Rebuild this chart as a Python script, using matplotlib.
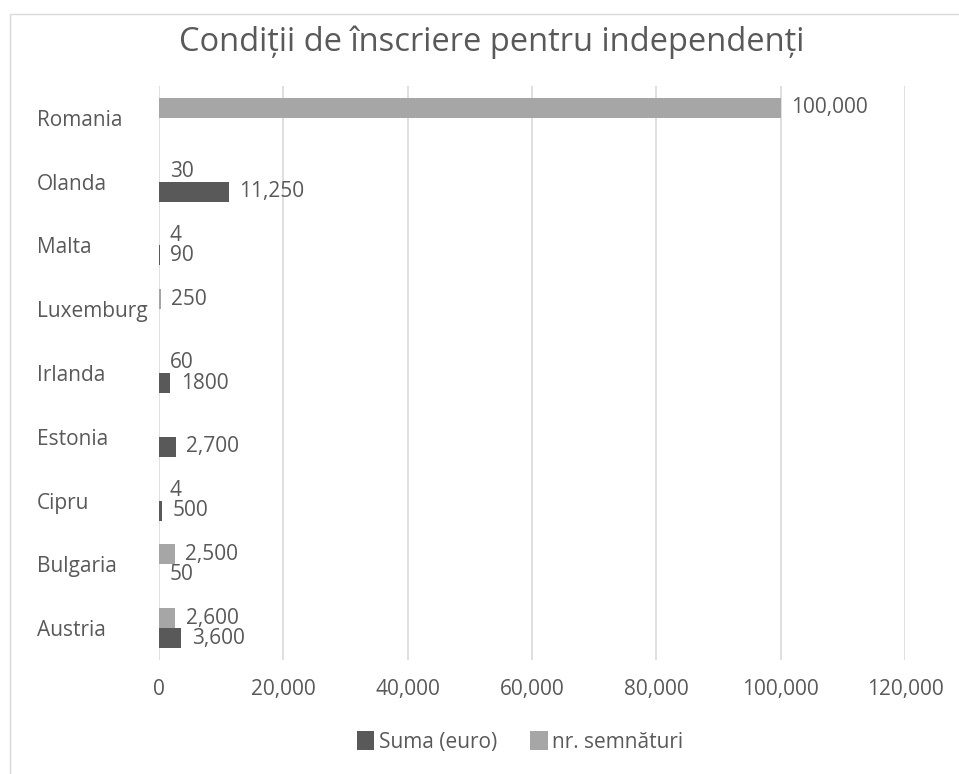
import numpy as np
import matplotlib
matplotlib.use('Agg')
import matplotlib.pyplot as plt
from matplotlib.patches import Rectangle

# ============================
# DATE
# ============================

tari = ['Austria', 'Bulgaria', 'Cipru', 'Estonia', 'Irlanda',
        'Luxemburg', 'Malta', 'Olanda', 'Romania']
suma_euro = [3600, 50, 500, 2700, 1800, None, 90, 11250, None]
nr_semnaturi = [2600, 2500, 4, None, 60, 250, 4, 30, 100000]
etichete_suma = ['3,600', '50', '500', '2,700', '1800', '', '90', '11,250', '']
etichete_semn = ['2,600', '2,500', '4', '', '60', '250', '4', '30', '100,000']
x_ticks = [0, 20000, 40000, 60000, 80000, 100000, 120000]

COL_SUMA = '#595959'
COL_SEMN = '#a6a6a6'
COL_TEXT = '#595959'
FS = 15

plt.rcParams['font.family'] = ['Open Sans', 'DejaVu Sans']

fig = plt.figure(figsize=(9.59, 7.74), dpi=100)
ax = fig.add_axes([159 / 959, 1 - 660 / 774, (905 - 159) / 959, (660 - 86) / 774])

# chenarul graficului
fig.patches.append(Rectangle((10 / 959, -0.1), 1.2, 1 - 14 / 774 + 0.1,
                             transform=fig.transFigure, fill=False,
                             edgecolor='#d9d9d9', linewidth=1))

y = np.arange(len(tari))
h = 0.314

suma_vals = [v if v is not None else 0 for v in suma_euro]
semn_vals = [v if v is not None else 0 for v in nr_semnaturi]

ax.barh(y - h / 2, suma_vals, height=h, color=COL_SUMA, label='Suma (euro)', zorder=3)
ax.barh(y + h / 2, semn_vals, height=h, color=COL_SEMN, label='nr. semnături', zorder=3)

for i in range(len(tari)):
    if etichete_suma[i]:
        ax.text(suma_vals[i] + 1700, y[i] - h / 2, etichete_suma[i], va='center',
                ha='left', fontsize=FS, color=COL_TEXT)
    if etichete_semn[i]:
        ax.text(semn_vals[i] + 1700, y[i] + h / 2, etichete_semn[i], va='center',
                ha='left', fontsize=FS, color=COL_TEXT)

ax.set_xlim(0, 120000)
ax.set_ylim(-0.5, len(tari) - 0.5)
ax.set_xticks(x_ticks)
ax.set_xticklabels([f'{t:,}' for t in x_ticks])
ax.set_yticks(y)
ax.set_yticklabels(tari, ha='left')
ax.tick_params(axis='y', length=0, pad=(159 - 37) * 0.72, labelsize=FS, labelcolor=COL_TEXT)
ax.tick_params(axis='x', length=0, pad=14, labelsize=FS, labelcolor=COL_TEXT)
ax.grid(axis='x', color='#d9d9d9', linewidth=1.2, zorder=0)
for s in ax.spines.values():
    s.set_visible(False)

fig.text(492 / 959, 1 - 42 / 774, 'Condiții de înscriere pentru independenți',
         ha='center', va='center', fontsize=23.5, color=COL_TEXT)

# legenda sub axa, centrata pe x ~ 520 px
fig.legend(*ax.get_legend_handles_labels(), loc='center',
           bbox_to_anchor=(520 / 959, 1 - 742 / 774),
           ncol=2, frameon=False, fontsize=FS, handlelength=0.85, handleheight=1.0,
           handletextpad=0.2, columnspacing=1.6, labelcolor=COL_TEXT)

fig.savefig('out.png', dpi=100)
